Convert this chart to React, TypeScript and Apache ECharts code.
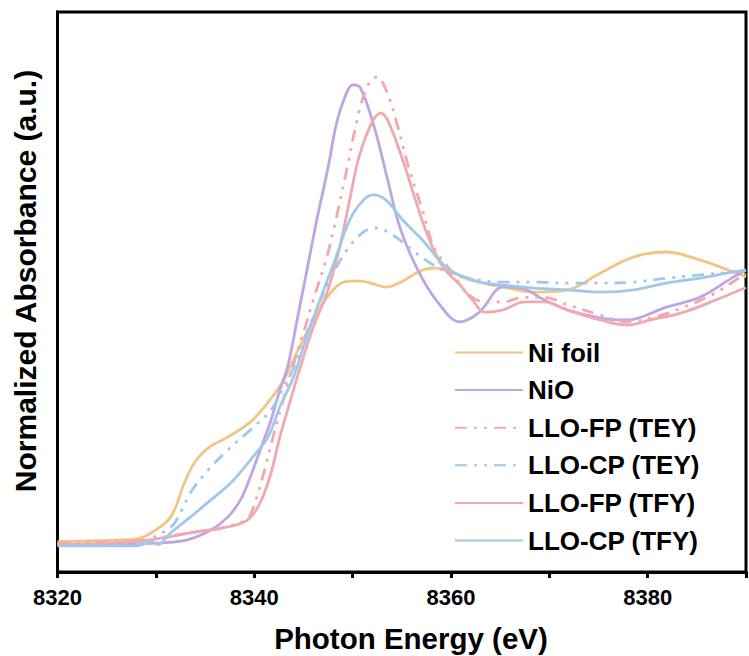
import React, { useEffect, useRef } from "react";
import * as echarts from "echarts";

const seriesNames = [
  "Ni foil",
  "NiO",
  "LLO-FP (TEY)",
  "LLO-CP (TEY)",
  "LLO-FP (TFY)",
  "LLO-CP (TFY)",
];

const xTicks = [8320, 8340, 8360, 8380];

const niFoil: [number, number][] = [
  [8320, 0.005], [8325, 0.01], [8328, 0.015], [8329.5, 0.037], [8331.5, 0.095],
  [8332.9, 0.22], [8333.9, 0.293], [8335.3, 0.348], [8337.3, 0.388], [8339.6, 0.443],
  [8341.6, 0.524], [8343.0, 0.597], [8344.6, 0.718], [8346.0, 0.817], [8347.4, 0.9],
  [8349.1, 0.956], [8350.7, 0.96], [8352.2, 0.948], [8353.4, 0.937], [8354.7, 0.952],
  [8357.1, 1.0], [8358.4, 1.007], [8360.8, 0.982], [8363.4, 0.952], [8365.2, 0.938],
  [8368.5, 0.919], [8371.9, 0.927], [8375.2, 0.989], [8378.6, 1.048], [8381.9, 1.066],
  [8385.3, 1.037], [8388.7, 0.993], [8390, 0.975],
];

const niO: [number, number][] = [
  [8320, -0.005], [8325, -0.005], [8330, 0.0], [8333, 0.01], [8335.6, 0.048],
  [8337.3, 0.095], [8338.6, 0.158], [8339.6, 0.242], [8340.6, 0.34], [8341.7, 0.45],
  [8342.6, 0.56], [8343.4, 0.645], [8344.4, 0.824], [8345.4, 1.007], [8346.4, 1.19],
  [8347.5, 1.374], [8348.4, 1.542], [8349.3, 1.641], [8350.0, 1.678], [8350.8, 1.667],
  [8352.2, 1.524], [8353.5, 1.34], [8354.8, 1.157], [8356.5, 1.01], [8358.5, 0.89],
  [8360.9, 0.81], [8362.9, 0.846], [8365.3, 0.938], [8367.2, 0.934], [8369.5, 0.89],
  [8371.9, 0.853], [8375.2, 0.824], [8377.9, 0.817], [8381.9, 0.864], [8385.3, 0.9],
  [8388.7, 0.974], [8390, 1.0],
];

const lloFpTey: [number, number][] = [
  [8320, 0.0], [8329, 0.01], [8331.2, 0.025], [8334, 0.04], [8337.3, 0.06],
  [8339.3, 0.09], [8340.0, 0.14], [8341.0, 0.26], [8342.0, 0.4], [8343.0, 0.53],
  [8343.6, 0.608], [8345.0, 0.77], [8346.0, 0.89], [8347.4, 1.05], [8348.4, 1.2],
  [8349.4, 1.366], [8350.7, 1.586], [8351.7, 1.685], [8352.5, 1.707],
  [8353.4, 1.66], [8354.4, 1.55], [8355.7, 1.377], [8357.1, 1.22], [8358.4, 1.073],
  [8360.2, 0.99], [8361.5, 0.92], [8363.4, 0.883], [8365.2, 0.883], [8367.5, 0.9],
  [8369.5, 0.9], [8371.9, 0.872], [8375.2, 0.835], [8377.9, 0.81], [8380.3, 0.824],
  [8383.7, 0.864], [8386.9, 0.916], [8389.4, 0.974], [8390, 0.985],
];

const lloCpTey: [number, number][] = [
  [8320, -0.005], [8328, 0.0], [8330.6, 0.037], [8331.9, 0.073], [8333.5, 0.183],
  [8335.3, 0.267], [8337.3, 0.34], [8339.6, 0.414], [8341.7, 0.487], [8343.0, 0.571],
  [8344.3, 0.665], [8346.0, 0.828], [8347.7, 0.963], [8349.4, 1.073], [8351.1, 1.139],
  [8352.4, 1.154], [8354.1, 1.128], [8355.7, 1.084], [8357.4, 1.037], [8359.2, 1.0],
  [8361.8, 0.97], [8365.2, 0.956], [8368.5, 0.956], [8371.9, 0.952], [8375.2, 0.952],
  [8378.6, 0.956], [8381.9, 0.97], [8385.3, 0.982], [8388.7, 0.993], [8390, 0.995],
];

const lloFpTfy: [number, number][] = [
  [8320, -0.005], [8325, 0.0], [8329, 0.01], [8331.2, 0.022], [8333.9, 0.04],
  [8337.3, 0.059], [8339.3, 0.084], [8340.6, 0.147], [8341.7, 0.256], [8342.6, 0.388],
  [8343.6, 0.513], [8344.6, 0.634], [8346.0, 0.79], [8347.4, 0.916], [8348.7, 1.084],
  [8349.7, 1.256], [8350.7, 1.42], [8352.1, 1.55], [8352.9, 1.575], [8353.7, 1.538],
  [8355.1, 1.403], [8356.4, 1.256], [8357.7, 1.12], [8359.2, 1.01], [8360.8, 0.95],
  [8362.2, 0.89], [8363.4, 0.846], [8365.2, 0.853], [8367.5, 0.883], [8369.5, 0.883],
  [8371.9, 0.853], [8375.2, 0.817], [8377.9, 0.798], [8380.3, 0.817], [8383.7, 0.846],
  [8386.9, 0.89], [8389.4, 0.927], [8390, 0.935],
];

const lloCpTfy: [number, number][] = [
  [8320, -0.01], [8328, -0.01], [8329.6, 0.004], [8330.2, -0.005], [8331.5, 0.037],
  [8333.5, 0.095], [8335.6, 0.158], [8337.6, 0.22], [8339.6, 0.304], [8341.4, 0.388],
  [8342.6, 0.498], [8344.0, 0.608], [8345.0, 0.718], [8346.3, 0.853], [8348.1, 1.026],
  [8349.7, 1.183], [8351.1, 1.256], [8352.1, 1.275], [8353.4, 1.256], [8355.1, 1.183],
  [8357.1, 1.11], [8359.5, 1.011], [8361.5, 0.97], [8363.4, 0.952], [8365.2, 0.945],
  [8368.5, 0.934], [8371.9, 0.927], [8375.2, 0.919], [8378.6, 0.927], [8381.9, 0.952],
  [8385.3, 0.97], [8388.7, 0.993], [8390, 1.0],
];

const seriesData = [niFoil, niO, lloFpTey, lloCpTey, lloFpTfy, lloCpTfy];
const colors = ["#F2C585", "#BEA6E4", "#F1A9AF", "#9FC8EB", "#F1A9AF", "#9FC8EB"];
const dashed = [false, false, true, true, false, false];

export default function App() {
  const ref = useRef<HTMLDivElement>(null);
  useEffect(() => {
    if (!ref.current) return;
    const chart = echarts.init(ref.current, null, { renderer: "svg" });
    const font = "'Liberation Sans', Arial, sans-serif";
    chart.setOption({
      animation: false,
      backgroundColor: "#ffffff",
      grid: {
        left: 57.5,
        right: -3,
        top: 12,
        bottom: 84,
        show: true,
        borderColor: "#000",
        borderWidth: 3,
      },
      xAxis: {
        type: "value",
        min: 8320,
        max: 8390,
        interval: 10,
        axisLine: { show: true, onZero: false, lineStyle: { color: "#000", width: 3 } },
        axisTick: { show: true, inside: false, length: 6, lineStyle: { color: "#000", width: 3 } },
        axisLabel: {
          margin: 14,
          fontFamily: font,
          fontWeight: "bold",
          fontSize: 22,
          color: "#000",
          formatter: (v: number) => (xTicks.includes(v) ? String(v) : ""),
        },
        splitLine: { show: false },
      },
      yAxis: {
        type: "value",
        min: -0.106,
        max: 1.945,
        axisLine: { show: true, onZero: false, lineStyle: { color: "#000", width: 3 } },
        axisTick: { show: false },
        axisLabel: { show: false },
        splitLine: { show: false },
      },
      legend: {
        orient: "vertical",
        left: 454,
        top: 339.5,
        padding: 0,
        itemWidth: 68,
        itemHeight: 3,
        itemGap: 11.6,
        itemTextGap: 8,
        itemStyle: { opacity: 0 },
        textStyle: {
          fontFamily: font,
          fontWeight: "bold",
          fontSize: 26,
          lineHeight: 25,
          color: "#000",
        },
        data: seriesNames,
      },
      graphic: [
        {
          type: "text",
          x: 25,
          y: 281,
          rotation: Math.PI / 2,
          style: {
            text: "Normalized Absorbance (a.u.)",
            font: `bold 30px ${font}`,
            fill: "#000",
            align: "center",
            verticalAlign: "middle",
          },
        },
        {
          type: "text",
          x: 411,
          y: 638,
          style: {
            text: "Photon Energy (eV)",
            font: `bold 29.5px ${font}`,
            fill: "#000",
            align: "center",
            verticalAlign: "middle",
          },
        },
      ],
      series: seriesNames.map((name, i) => ({
        name,
        type: "line",
        data: seriesData[i],
        symbol: "none",
        smooth: 0.35,
        color: colors[i],
        lineStyle: {
          color: colors[i],
          width: 2.8,
          type: dashed[i] ? [12, 7, 3, 7, 3, 7] : "solid",
        },
        z: 2,
      })),
    });
    return () => chart.dispose();
  }, []);
  return <div ref={ref} style={{ width: 749, height: 656, position: "absolute", left: 0, top: 0 }} />;
}
